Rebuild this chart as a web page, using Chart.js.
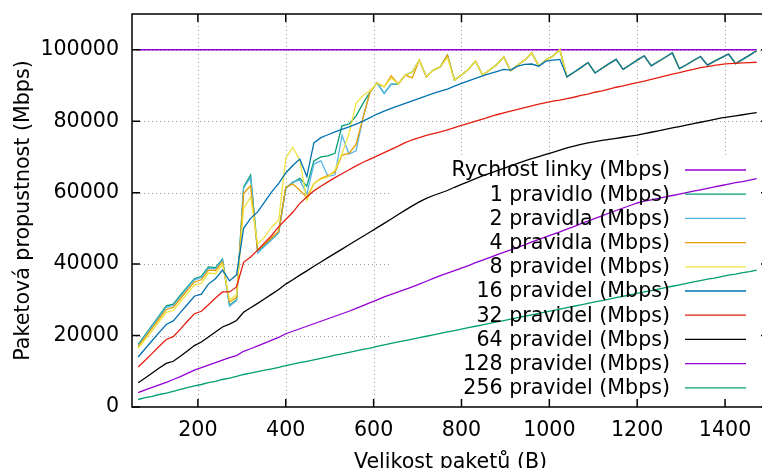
<!DOCTYPE html>
<html>
<head>
<meta charset="utf-8">
<script src="https://cdn.jsdelivr.net/npm/chart.js@4.4.1/dist/chart.umd.min.js"></script>
<style>
html, body { margin: 0; padding: 0; overflow: hidden; background: #fff; }
#wrap { width: 790px; height: 480px; }
</style>
</head>
<body>
<div id="wrap"><canvas id="graf" width="790" height="480"></canvas></div>
<script>
// velikosti paketu (B)
var sizes = [64, 80, 96, 112, 128, 144, 160, 176, 192, 208, 224, 240, 256, 272, 288, 304, 320, 336, 352, 368,
  384, 400, 416, 432, 448, 464, 480, 496, 512, 528, 544, 560, 576, 592, 608, 624, 640, 656, 672, 688,
  704, 720, 736, 752, 768, 784, 800, 816, 832, 848, 864, 880, 896, 912, 928, 944, 960, 976, 992, 1008,
  1024, 1040, 1056, 1072, 1088, 1104, 1120, 1136, 1152, 1168, 1184, 1200, 1216, 1232, 1248, 1264, 1280,
  1296, 1312, 1328, 1344, 1360, 1376, 1392, 1408, 1424, 1440, 1456, 1472];

var rateSizes = [64, 1472];
var rate = [100000, 100000];

// 64 .. 1024 B
var p1Head = [17500, 20200, 22900, 25600, 28300, 28800, 31300, 33600, 35900, 36600, 39200, 39000, 41400, 28500, 30000,
  61600, 64900, 43700, 45300, 47200, 49000, 61200, 62800, 64000, 61800, 68900, 70000, 70300, 71000, 78700,
  79200, 81500, 85000, 88200, 90700, 87800, 90400, 90400, 92900, 93800, 97100, 92400, 94300, 95200, 98500,
  91500, 92900, 94500, 96800, 92900, 94300, 95800, 98000, 94100, 95700, 97100, 99100, 95400, 97100, 98200, 100000];
var p2Head = [17200, 19900, 22600, 25200, 27900, 28400, 30900, 33300, 35600, 36200, 38800, 38700, 41100, 28200, 29800,
  61300, 64200, 43100, 45000, 46800, 48700, 61300, 63000, 63500, 59600, 68000, 68900, 64500, 65000, 76000,
  70800, 71700, 81000, 88200, 90700, 87800, 90400, 90400, 92900, 93800, 97100, 92400, 94300, 95200, 98500,
  91500, 92900, 94500, 96800, 92900, 94300, 95800, 98000, 94100, 95700, 97100, 99100, 95400, 97100, 98200, 100000];
var p4Head = [16900, 19500, 22100, 24700, 27300, 27900, 30300, 32700, 35000, 35600, 38300, 38200, 40600, 29400, 30600,
  59800, 61900, 43900, 45600, 47400, 49200, 61600, 62400, 60700, 58600, 62500, 64000, 64800, 65800, 70500,
  71000, 73500, 81000, 88200, 90700, 89600, 92700, 90400, 92900, 92100, 97100, 92400, 94300, 95200, 98500,
  91500, 92900, 94500, 96800, 92900, 94300, 95800, 98000, 94100, 95700, 97100, 99100, 95400, 97100, 98200, 100000];
var p8Head = [16400, 18900, 21400, 23900, 26500, 27000, 29400, 31800, 34100, 34600, 37500, 37300, 40000, 30000, 31400,
  55600, 58800, 45600, 47600, 50400, 52300, 69600, 72700, 69100, 57900, 62500, 63800, 64400, 66300, 70900,
  76500, 85000, 87200, 88500, 90700, 89600, 92100, 90400, 92900, 93800, 97100, 92400, 94300, 95200, 97800,
  91500, 92900, 94500, 96800, 92900, 94300, 95800, 98000, 94100, 95700, 97100, 99100, 95400, 97100, 98200, 100000];
var p16Head = [14000, 16300, 18600, 20900, 23100, 24100, 26400, 28700, 31000, 31600, 34400, 35900, 38300, 35300, 37000,
  50000, 52800, 54600, 57400, 60200, 62600, 65500, 67600, 69400, 64500, 73900, 75400, 76200, 77000, 77700,
  78400, 79200, 80000, 81000, 82000, 82800, 83600, 84300, 85000, 85700, 86400, 87100, 87800, 88400, 89000,
  89800, 90600, 91300, 92000, 92700, 93300, 93900, 94500, 94300, 95400, 95900, 96000, 95400, 96800, 97100, 97300];
// 1040 .. 1472 B, spolecne pro 1 az 16 pravidel
var tail = [92400, 93700, 95000, 96400, 93500, 94800, 96100, 97300, 94500, 95800, 97100, 98300, 95500, 96700,
  97900, 99100, 94700, 95800, 97000, 98100, 95700, 96800, 97800, 98800, 96100, 97300, 98500, 99700];

var p32 = [11200, 13100, 15000, 17000, 18900, 19700, 21800, 24000, 26100, 26800, 28600, 30500, 32200, 32200, 33600,
  40500, 42000, 43900, 46000, 48000, 50500, 52500, 54500, 57000, 58800, 60500, 61800, 63000, 64200, 65300,
  66400, 67500, 68500, 69400, 70300, 71200, 72100, 73000, 74000, 74800, 75400, 76000, 76500, 77000, 77600,
  78200, 78800, 79400, 80000, 80600, 81200, 81800, 82300, 82800, 83300, 83800, 84300, 84800, 85200, 85600,
  85900, 86300, 86700, 87200, 87600, 88100, 88500, 89000, 89500, 89900, 90400, 90800, 91200, 91700, 92200,
  92700, 93200, 93600, 94100, 94500, 95000, 95300, 95600, 95900, 96100, 96200, 96300, 96400, 96500];
var p64 = [6800, 8100, 9500, 10900, 12200, 12800, 14200, 15700, 17200, 18200, 19600, 21000, 22400, 23200, 24200,
  26500, 27800, 29000, 30300, 31600, 32900, 34400, 35600, 36900, 38100, 39400, 40600, 41800, 43000, 44200,
  45400, 46600, 47800, 49000, 50200, 51400, 52600, 53900, 55100, 56300, 57400, 58400, 59200, 59900, 60600,
  61500, 62300, 63100, 63900, 64700, 65400, 66100, 66800, 67500, 68200, 68900, 69500, 70100, 70700, 71300,
  71900, 72500, 73000, 73500, 73900, 74300, 74600, 74900, 75200, 75500, 75800, 76100, 76500, 76900, 77300,
  77700, 78100, 78500, 78900, 79300, 79700, 80100, 80500, 80900, 81200, 81500, 81800, 82100, 82400];
var p128 = [4000, 4800, 5500, 6200, 6900, 7700, 8500, 9400, 10300, 11000, 11700, 12400, 13100, 13800, 14400,
  15600, 16300, 17100, 17900, 18700, 19500, 20500, 21200, 21900, 22600, 23300, 24000, 24700, 25400, 26100,
  26800, 27600, 28400, 29200, 30000, 30800, 31500, 32200, 32900, 33600, 34400, 35200, 36000, 36800, 37500,
  38200, 38900, 39600, 40400, 41100, 41800, 42600, 43300, 44000, 44700, 45400, 46200, 46900, 47600, 48300,
  49000, 49800, 50500, 51300, 52000, 52800, 53500, 54300, 55000, 55700, 56400, 57100, 57600, 58000, 58400,
  58800, 59200, 59600, 60000, 60400, 60800, 61200, 61600, 62000, 62400, 62800, 63100, 63500, 63900];
var p256 = [2100, 2600, 3000, 3500, 3900, 4400, 4900, 5400, 5900, 6300, 6800, 7200, 7700, 8100, 8600,
  9100, 9500, 9900, 10300, 10700, 11100, 11600, 12000, 12400, 12800, 13200, 13600, 14000, 14500, 14900,
  15300, 15700, 16100, 16500, 17000, 17400, 17800, 18200, 18600, 19000, 19400, 19800, 20200, 20600, 21000,
  21400, 21800, 22200, 22600, 23000, 23400, 23800, 24200, 24600, 25000, 25400, 25800, 26200, 26600, 27000,
  27400, 27800, 28200, 28600, 29000, 29400, 29800, 30200, 30600, 31000, 31400, 31800, 32200, 32600, 33000,
  33400, 33800, 34200, 34600, 35000, 35400, 35800, 36100, 36500, 36900, 37200, 37600, 37900, 38300];

var names = ['Rychlost linky (Mbps)', '1 pravidlo (Mbps)', '2 pravidla (Mbps)', '4 pravidla (Mbps)',
  '8 pravidel (Mbps)', '16 pravidel (Mbps)', '32 pravidel (Mbps)', '64 pravidel (Mbps)',
  '128 pravidel (Mbps)', '256 pravidel (Mbps)'];
var colors = ['#9400d3', '#009e73', '#56b4e9', '#e69f00', '#f0e442', '#0072b2', '#e51e10', '#000000',
  '#9400d3', '#009e73'];
var xTicks = [200, 400, 600, 800, 1000, 1200, 1400];
var yTicks = [0, 20000, 40000, 60000, 80000, 100000];

function pts(xs, ys) {
  return ys.map(function (v, i) { return { x: xs[i], y: v }; });
}

var series = [
  pts(rateSizes, rate),
  pts(sizes, p1Head.concat(tail)),
  pts(sizes, p2Head.concat(tail)),
  pts(sizes, p4Head.concat(tail)),
  pts(sizes, p8Head.concat(tail)),
  pts(sizes, p16Head.concat(tail)),
  pts(sizes, p32),
  pts(sizes, p64),
  pts(sizes, p128),
  pts(sizes, p256)
];

var FONT = 'DejaVu Sans';
var FSIZE = 20.6;
// kde ma lezet vykresova plocha (px)
var AREA = { left: 132, top: 14, right: 769, bottom: 407 };

// gnuplot vzhled: mrizka, ramecek, znacky dovnitr, klic vpravo dole
var gnuplotLook = {
  id: 'gnuplotLook',
  beforeDatasetsDraw: function (chart) {
    var ctx = chart.ctx, a = chart.chartArea, sx = chart.scales.x, sy = chart.scales.y;
    ctx.save();
    ctx.beginPath();
    ctx.rect(a.left, a.top, a.right - a.left, a.bottom - a.top);
    ctx.rect(390, 157, a.right - 390, a.bottom - 157);
    ctx.clip('evenodd');
    ctx.strokeStyle = '#a0a0a0';
    ctx.lineWidth = 1;
    ctx.setLineDash([1, 3]);
    xTicks.forEach(function (v) {
      var px = Math.round(sx.getPixelForValue(v)) + 0.5;
      ctx.beginPath(); ctx.moveTo(px, a.top); ctx.lineTo(px, a.bottom); ctx.stroke();
    });
    yTicks.forEach(function (v) {
      if (v === 0) return;
      var py = Math.round(sy.getPixelForValue(v)) + 0.5;
      ctx.beginPath(); ctx.moveTo(a.left, py); ctx.lineTo(a.right, py); ctx.stroke();
    });
    ctx.restore();
  },
  afterDatasetsDraw: function (chart) {
    var ctx = chart.ctx, a = chart.chartArea, sx = chart.scales.x, sy = chart.scales.y;
    ctx.save();
    ctx.strokeStyle = '#000';
    ctx.lineWidth = 1.5;
    ctx.strokeRect(a.left, a.top, a.right - a.left, a.bottom - a.top);
    ctx.beginPath();
    xTicks.forEach(function (v) {
      var px = sx.getPixelForValue(v);
      ctx.moveTo(px, a.bottom); ctx.lineTo(px, a.bottom - 8);
      ctx.moveTo(px, a.top); ctx.lineTo(px, a.top + 8);
    });
    yTicks.forEach(function (v) {
      var py = sy.getPixelForValue(v);
      ctx.moveTo(a.left, py); ctx.lineTo(a.left + 8, py);
      ctx.moveTo(a.right, py); ctx.lineTo(a.right - 8, py);
    });
    ctx.stroke();

    // klic
    ctx.font = FSIZE + 'px "' + FONT + '"';
    ctx.fillStyle = '#000';
    ctx.textAlign = 'right';
    ctx.textBaseline = 'middle';
    chart.data.datasets.forEach(function (ds, i) {
      var ky = 170 + 24.2 * i;
      ctx.fillText(ds.label, 670, ky + 1);
      ctx.strokeStyle = ds.borderColor;
      ctx.lineWidth = 1.3;
      ctx.beginPath(); ctx.moveTo(685, ky); ctx.lineTo(746, ky); ctx.stroke();
    });

    // popisky os
    ctx.textAlign = 'center';
    ctx.textBaseline = 'alphabetic';
    ctx.fillText('Velikost paketů (B)', (a.left + a.right) / 2, 468);
    ctx.translate(29, (a.top + a.bottom) / 2);
    ctx.rotate(-Math.PI / 2);
    ctx.fillText('Paketová propustnost (Mbps)', 0, 0);
    ctx.restore();
  }
};

var datasets = series.map(function (d, i) {
  return {
    label: names[i],
    data: d,
    borderColor: colors[i],
    backgroundColor: colors[i],
    borderWidth: 1.3,
    pointRadius: 0,
    tension: 0,
    fill: false,
    order: series.length - i
  };
});

var ctx = document.getElementById('graf').getContext('2d');
var chart = new Chart(ctx, {
  type: 'line',
  data: { datasets: datasets },
  options: {
    responsive: false,
    animation: false,
    events: [],
    layout: { padding: { top: 14, right: 21, bottom: 0, left: 0 } },
    plugins: { legend: { display: false }, tooltip: { enabled: false } },
    scales: {
      x: {
        type: 'linear',
        min: 50,
        max: 1500,
        grid: { display: false, drawTicks: false },
        border: { display: false },
        afterBuildTicks: function (s) { s.ticks = xTicks.map(function (v) { return { value: v }; }); },
        afterFit: function (s) { s.height = 73; s.paddingLeft = 0; s.paddingRight = 0; },
        ticks: {
          autoSkip: false,
          maxRotation: 0,
          padding: 11,
          color: '#000',
          font: { family: FONT, size: FSIZE },
          callback: function (v) { return String(v); }
        }
      },
      y: {
        type: 'linear',
        min: 0,
        max: 110000,
        grid: { display: false, drawTicks: false },
        border: { display: false },
        afterBuildTicks: function (s) { s.ticks = yTicks.map(function (v) { return { value: v }; }); },
        afterFit: function (s) { s.width = 132; s.paddingTop = 0; s.paddingBottom = 0; },
        ticks: {
          padding: 13,
          color: '#000',
          font: { family: FONT, size: FSIZE },
          callback: function (v) { return String(v); }
        }
      }
    }
  },
  plugins: [gnuplotLook]
});

// doladeni polohy vykresove plochy
var ca = chart.chartArea, pad = chart.options.layout.padding;
pad.top += AREA.top - ca.top;
pad.bottom += ca.bottom - AREA.bottom;
pad.left += AREA.left - ca.left;
pad.right += ca.right - AREA.right;
chart.update();
</script>
</body>
</html>
